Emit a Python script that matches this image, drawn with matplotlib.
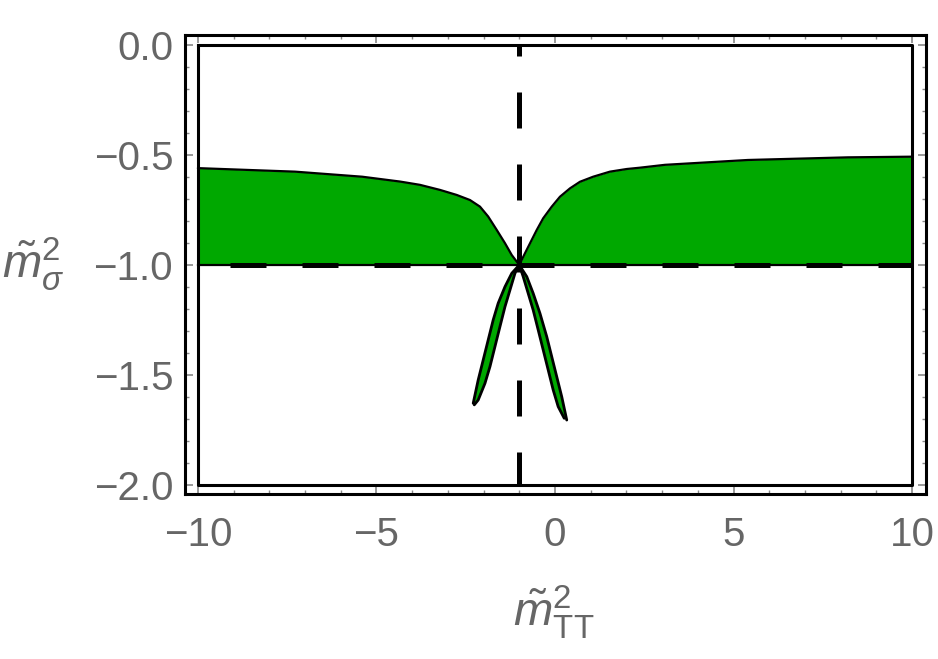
import numpy as np
import matplotlib; matplotlib.use("Agg")
import matplotlib.pyplot as plt
from matplotlib.ticker import MultipleLocator

# upper boundary of the allowed band (lower edge is m_sigma^2 = -1)
up_left_x = [-10.0, -7.28, -5.4, -4.34, -3.78, -3.22, -2.75, -2.38, -2.10, -1.87,
             -1.63, -1.40, -1.21, -1.0]
up_left_y = [-0.56, -0.576, -0.599, -0.621, -0.636, -0.659, -0.682, -0.705, -0.735,
             -0.780, -0.841, -0.901, -0.955, -1.0]
up_right_x = [-1.0, -0.84, -0.70, -0.51, -0.33, -0.09, 0.14, 0.42, 0.70, 1.07, 1.54,
              2.01, 2.38, 3.08, 5.4, 8.2, 10.0]
up_right_y = [-1.0, -0.947, -0.902, -0.841, -0.788, -0.735, -0.690, -0.652, -0.622,
              -0.599, -0.576, -0.564, -0.558, -0.545, -0.523, -0.511, -0.508]

# thin lobes below the crossing point (outer / inner edges)
lobeL_out_x = [-1.0, -1.21, -1.40, -1.59, -1.73, -1.87, -2.01, -2.15, -2.29]
lobeL_out_y = [-1.0, -1.038, -1.099, -1.174, -1.25, -1.341, -1.432, -1.523, -1.629]
lobeL_in_x = [-1.0, -1.12, -1.26, -1.40, -1.54, -1.68, -1.82, -1.96, -2.15, -2.26]
lobeL_in_y = [-1.0, -1.038, -1.114, -1.19, -1.28, -1.371, -1.462, -1.538, -1.614, -1.636]
lobeR_out_x = [-1.0, -0.79, -0.61, -0.42, -0.23, -0.09, 0.05, 0.19, 0.33]
lobeR_out_y = [-1.0, -1.053, -1.129, -1.22, -1.326, -1.417, -1.508, -1.599, -1.705]
lobeR_in_x = [-1.0, -0.89, -0.75, -0.61, -0.47, -0.33, -0.19, -0.05, 0.09, 0.26]
lobeR_in_y = [-1.0, -1.053, -1.129, -1.205, -1.295, -1.386, -1.477, -1.568, -1.644, -1.697]

GREEN = "#00a800"
GRAY = "#666666"

plt.rcParams.update({"font.family": "Liberation Sans", "mathtext.fontset": "custom",
                     "mathtext.rm": "Liberation Sans", "mathtext.it": "Liberation Sans:italic",
                     "mathtext.sf": "Liberation Sans"})

fig = plt.figure(figsize=(9.38, 6.59), dpi=100)
ax = fig.add_axes([185/938, 1 - 494/659, 741/938, 459/659])

line_kw = dict(color="k", lw=1.6, solid_joinstyle="round", solid_capstyle="round")
ax.fill_between(up_left_x, up_left_y, -1, color=GREEN, lw=0)
ax.fill_between(up_right_x, up_right_y, -1, color=GREEN, lw=0)
ax.plot(up_left_x, up_left_y, **line_kw)
ax.plot(up_right_x, up_right_y, **line_kw)

for ox, oy, ix, iy in [(lobeL_out_x, lobeL_out_y, lobeL_in_x, lobeL_in_y),
                       (lobeR_out_x, lobeR_out_y, lobeR_in_x, lobeR_in_y)]:
    ax.fill(ox + ix[::-1], oy + iy[::-1], color=GREEN, lw=0)
    ax.plot(ox, oy, **{**line_kw, "lw": 2.0})
    ax.plot(ix, iy, **{**line_kw, "lw": 2.0})

ax.plot([-10, 10], [-1, -1], color="k", lw=1.6)
ax.plot([-10, 10], [-1, -1], color="k", lw=3.6, linestyle=(8.0, (7.2, 7.2)))
ax.plot([-1, -1], [0, -2], color="k", lw=3.6, linestyle=(5.0, (7.2, 7.2)))

# inner frame of the region plot
ax.plot([-10, 10, 10, -10, -10], [0, 0, -2, -2, 0], color="k", lw=2.2)

ax.set_xlim(-10.36, 10.39)
ax.set_ylim(-2.041, 0.045)
ax.set_xticks([-10, -5, 0, 5, 10])
ax.set_xticklabels(["\u221210", "\u22125", "0", "5", "10"])
ax.set_yticks([0, -0.5, -1.0, -1.5, -2.0])
ax.set_yticklabels(["0.0", "\u22120.5", "\u22121.0", "\u22121.5", "\u22122.0"])
ax.xaxis.set_minor_locator(MultipleLocator(1))
ax.yaxis.set_minor_locator(MultipleLocator(0.1))
ax.tick_params(which="both", direction="in", top=True, right=True, color="#888888",
               labelsize=29, labelcolor=GRAY)
ax.tick_params(which="major", length=6, width=1.2)
ax.tick_params(which="minor", length=3, width=1)
ax.tick_params(axis="x", which="major", pad=16)
ax.tick_params(axis="y", which="major", pad=8.6)
for s in ax.spines.values():
    s.set_linewidth(2.2)

ax.set_xlabel(r"$\tilde{m}^2_{\mathrm{TT}}$", fontsize=34, color=GRAY, va="center", ha="center")
ax.xaxis.set_label_coords(0.498, -0.257)
ax.set_ylabel(r"$\tilde{m}^2_\sigma$", fontsize=34, color=GRAY, rotation=0, va="center", ha="center")
ax.yaxis.set_label_coords(-0.205, 0.5)

fig.savefig("out.png", dpi=100)
